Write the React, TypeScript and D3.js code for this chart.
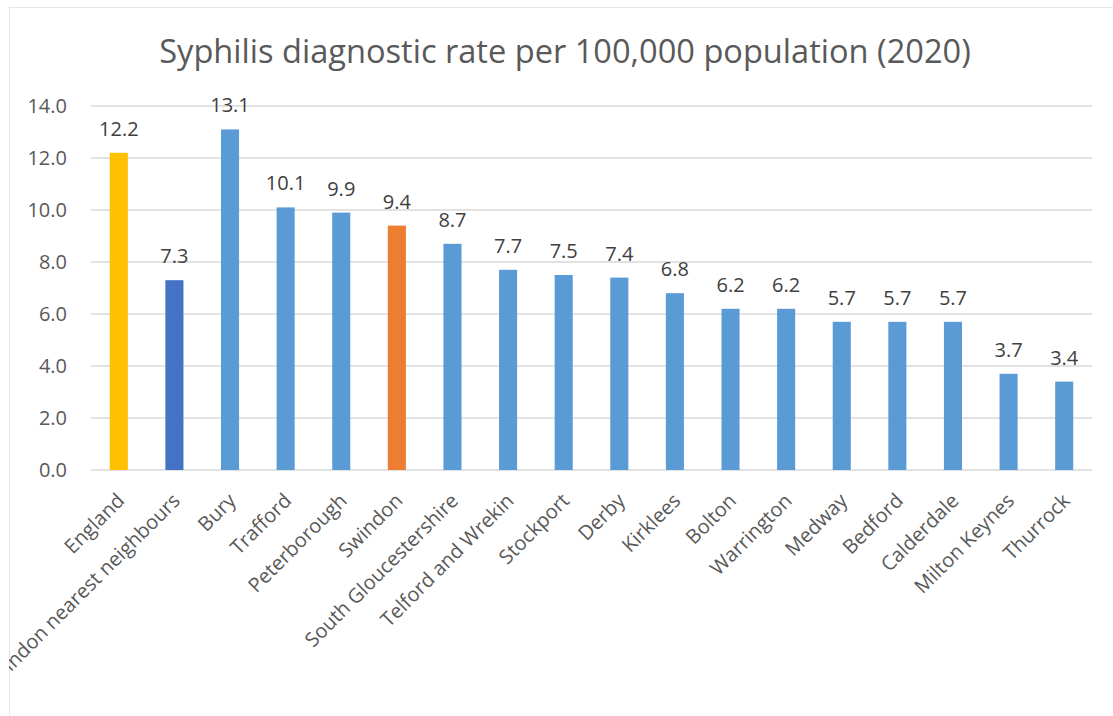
import React from "react";
import * as d3 from "d3";

const categories = [
  "England",
  "Swindon nearest neighbours",
  "Bury",
  "Trafford",
  "Peterborough",
  "Swindon",
  "South Gloucestershire",
  "Telford and Wrekin",
  "Stockport",
  "Derby",
  "Kirklees",
  "Bolton",
  "Warrington",
  "Medway",
  "Bedford",
  "Calderdale",
  "Milton Keynes",
  "Thurrock",
];
const rates = [12.2, 7.3, 13.1, 10.1, 9.9, 9.4, 8.7, 7.7, 7.5, 7.4, 6.8, 6.2, 6.2, 5.7, 5.7, 5.7, 3.7, 3.4];
const yTicks = [0, 2, 4, 6, 8, 10, 12, 14];
const title = "Syphilis diagnostic rate per 100,000 population (2020)";

const highlight: Record<string, string> = {
  England: "#FFC000",
  "Swindon nearest neighbours": "#4472C4",
  Swindon: "#ED7D31",
};
const defaultColor = "#5B9BD5";

const W = 1113;
const H = 716;
const FONT = "'Open Sans', 'Noto Sans', sans-serif";

export default function App() {
  const x = d3.scaleBand<string>().domain(categories).range([91, 1092]).paddingInner(0.675).paddingOuter(0.3375);
  const y = d3.scaleLinear().domain([0, 14]).range([470, 106]);
  const fmt = d3.format(".1f");

  return (
    <svg width={W} height={H} style={{ position: "absolute", left: 0, top: 0 }}>
      <defs>
        <clipPath id="chartArea">
          <rect x={9} y={7} width={W} height={H} />
        </clipPath>
      </defs>
      <rect x={0} y={0} width={W} height={H} fill="#fff" />
      <g clipPath="url(#chartArea)">
        <rect x={9} y={7} width={W + 10} height={H + 10} fill="#fff" stroke="#d9d9d9" strokeWidth={1.3} />
        <text x={565} y={63} textAnchor="middle" fontFamily={FONT} fontSize={32.6} fill="#595959">
          {title}
        </text>
        {yTicks.map((t) => (
          <g key={t}>
            <line x1={91} x2={1092} y1={y(t)} y2={y(t)} stroke="#d9d9d9" strokeWidth={1.3} />
            <text x={67} y={y(t)} dy="0.35em" textAnchor="end" fontFamily={FONT} fontSize={20} fill="#595959">
              {fmt(t)}
            </text>
          </g>
        ))}
        {categories.map((c, i) => {
          const bx = x(c)!;
          const bw = x.bandwidth();
          const cx = bx + bw / 2;
          return (
            <g key={c}>
              <rect x={bx} y={y(rates[i])} width={bw} height={y(0) - y(rates[i])} fill={highlight[c] ?? defaultColor} />
              <text x={cx} y={y(rates[i]) - 17} textAnchor="middle" fontFamily={FONT} fontSize={20} fill="#404040">
                {fmt(rates[i])}
              </text>
              <text
                transform={`translate(${cx + 2},${497}) rotate(-45)`}
                textAnchor="end"
                dy="0.35em"
                fontFamily={FONT}
                fontSize={20}
                fill="#595959"
              >
                {c}
              </text>
            </g>
          );
        })}
      </g>
    </svg>
  );
}
